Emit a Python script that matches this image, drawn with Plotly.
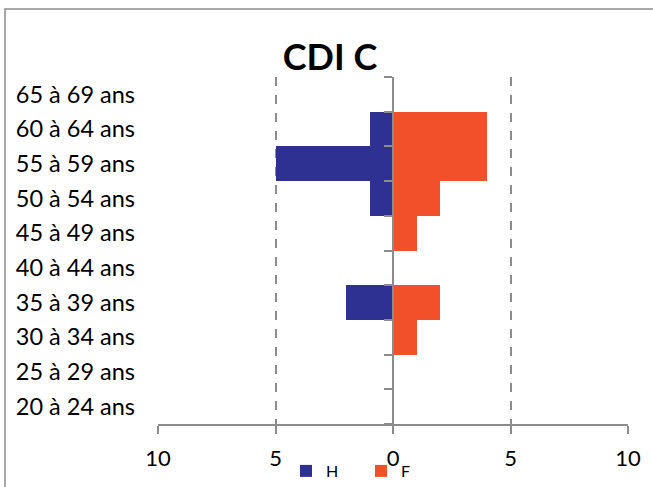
import plotly.graph_objects as go

# Age groups, bottom to top
age_groups = ["20 à 24 ans", "25 à 29 ans", "30 à 34 ans", "35 à 39 ans", "40 à 44 ans",
              "45 à 49 ans", "50 à 54 ans", "55 à 59 ans", "60 à 64 ans", "65 à 69 ans"]
hommes = [0, 0, 0, 2, 0, 0, 1, 5, 1, 0]
femmes = [0, 0, 1, 2, 0, 1, 2, 4, 4, 0]

x_ticks = [-10, -5, 0, 5, 10]
x_tick_labels = ["10", "5", "0", "5", "10"]

BLUE = "#2E3192"
ORANGE = "#F2502A"
GREY = "#8C8C8C"
FONT = "Lato"

fig = go.Figure()
fig.add_trace(go.Bar(
    y=age_groups, x=[-v for v in hommes], name="H", orientation="h",
    marker=dict(color=BLUE, line=dict(width=0)),
))
fig.add_trace(go.Bar(
    y=age_groups, x=femmes, name="F", orientation="h",
    marker=dict(color=ORANGE, line=dict(width=0)),
))
# Invisible trace carrying the central axis with boundary ticks
fig.add_trace(go.Bar(
    y=age_groups, x=[0] * len(age_groups), yaxis="y2", showlegend=False,
    orientation="h", hoverinfo="skip", marker=dict(color="rgba(0,0,0,0)"),
))

fig.update_layout(
    width=653, height=487,
    margin=dict(l=158, r=25, t=77, b=63, autoexpand=False),
    paper_bgcolor="white", plot_bgcolor="white",
    barmode="relative", bargap=0,
    font=dict(family=FONT, color="black"),
    title=dict(text="<b>CDI C</b>", x=0.366, xref="paper", xanchor="center",
               y=1 - 57 / 487, yref="container", yanchor="middle",
               font=dict(family=FONT, size=36, color="black")),
    xaxis=dict(range=[-10, 10], tickvals=x_ticks, ticktext=x_tick_labels,
               showgrid=True, gridcolor=GREY, griddash="dash", gridwidth=1.5,
               zeroline=False, showline=True, linecolor=GREY, linewidth=2,
               ticks="outside", ticklen=8, tickcolor=GREY, tickwidth=2,
               tickfont=dict(size=22), ticklabelstandoff=6, fixedrange=True),
    yaxis=dict(type="category", categoryorder="array", categoryarray=age_groups,
               showline=False, showgrid=False, zeroline=False, ticks="",
               tickfont=dict(size=23.5), ticklabelstandoff=22, fixedrange=True),
    yaxis2=dict(type="category", categoryorder="array", categoryarray=age_groups,
                overlaying="y", anchor="free", position=0.5, side="left",
                showline=True, linecolor=GREY, linewidth=2,
                ticks="outside", tickson="boundaries", ticklen=8,
                tickcolor=GREY, tickwidth=2, showticklabels=False,
                showgrid=False, zeroline=False, fixedrange=True),
    legend=dict(orientation="h", x=(286 - 158) / 470, xanchor="left",
                y=1 - 471 / 487, yref="container", yanchor="middle",
                font=dict(size=16), itemwidth=30,
                entrywidth=30, entrywidthmode="pixels",
                bgcolor="rgba(0,0,0,0)", traceorder="normal"),
    showlegend=True,
    shapes=[dict(type="rect", xref="paper", yref="paper",
                 x0=(5 - 158) / 470, x1=1.3, y0=-0.4, y1=1 + (77 - 9) / 347,
                 line=dict(color=GREY, width=1.5), layer="below")],
)

fig.write_html("out.html")
